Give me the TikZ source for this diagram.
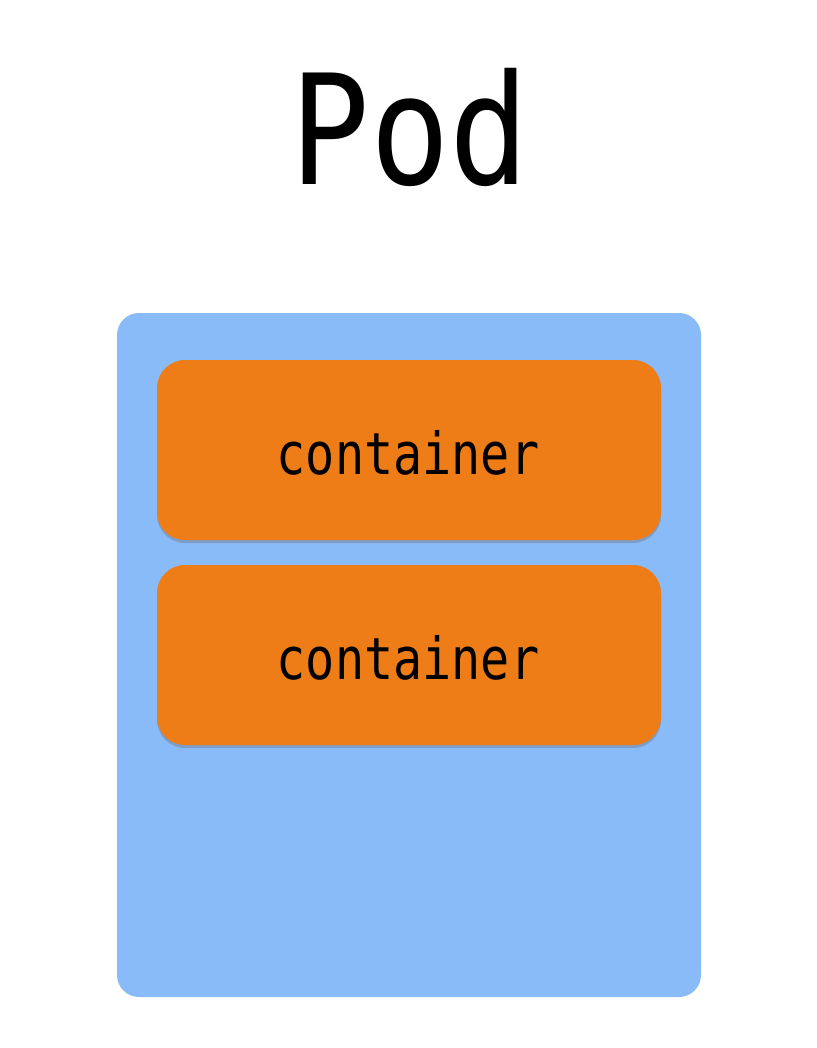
\documentclass[tikz,border=0pt]{standalone}
\usepackage{fontspec}
\setmonofont{DejaVu Sans Mono}
\usetikzlibrary{shadows}
\definecolor{podblue}{HTML}{8ABBF9}
\definecolor{ctorange}{HTML}{EE7D17}
\tikzset{
  podbox/.style={fill=podblue, draw=none, rounded corners=22pt},
  ctbox/.style={fill=ctorange, draw=none, rounded corners=28pt,
    drop shadow={shadow xshift=0pt, shadow yshift=-3pt, opacity=0.35, fill=black!60}},
  cttext/.style={anchor=base, inner sep=0pt, font=\ttfamily\fontsize{58}{58}\selectfont},
  titletext/.style={anchor=base, inner sep=0pt, font=\ttfamily\fontsize{153}{153}\selectfont}
}
\begin{document}
\begin{tikzpicture}[x=1pt,y=-1pt]
\useasboundingbox (0,0) rectangle (816,1048);
\fill[white] (0,0) rectangle (816,1048);
\node[titletext] (title) at (410,185) {\scalebox{0.865}[1]{Pod}};
\path[podbox] (117,313) rectangle (701,997);
\path[ctbox] (157,360) rectangle (661,540);
\node[cttext] (c1) at (408,474) {\scalebox{0.835}[1]{container}};
\path[ctbox] (157,565) rectangle (661,745);
\node[cttext] (c2) at (408,679) {\scalebox{0.835}[1]{container}};
\end{tikzpicture}
\end{document}
